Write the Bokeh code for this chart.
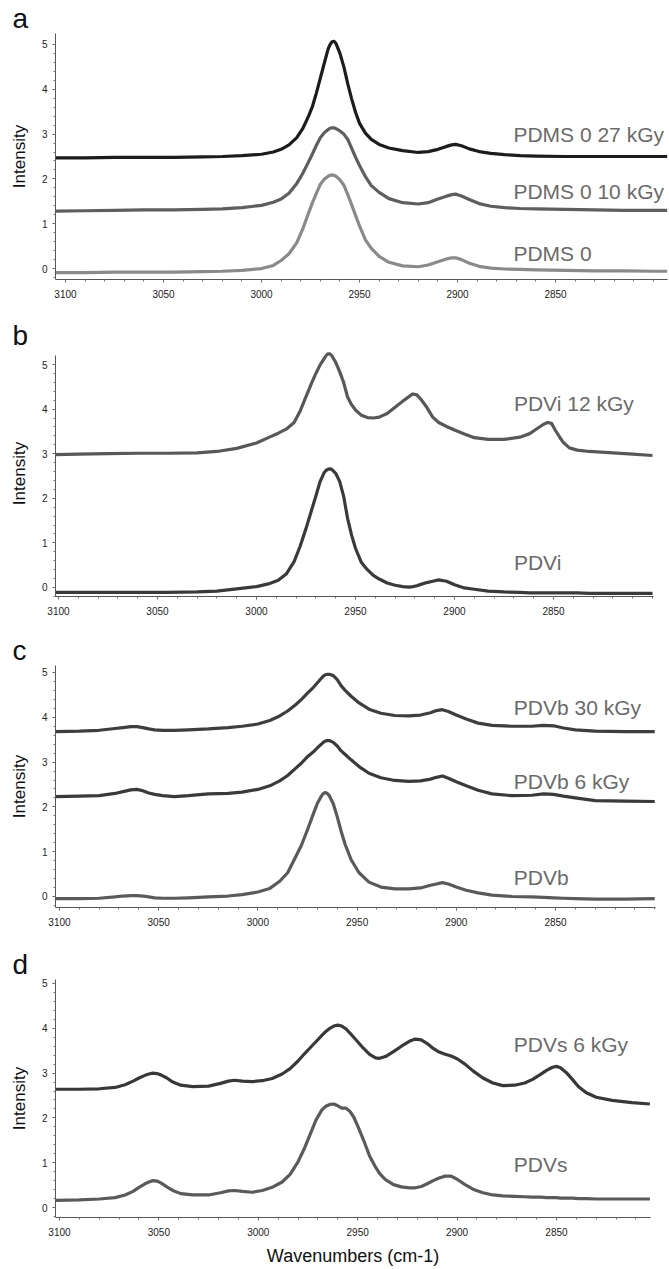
from bokeh.plotting import figure
from bokeh.layouts import column
from bokeh.models import FixedTicker, Label, Range1d
from bokeh.embed import file_html
from bokeh.resources import INLINE

FONT = "Liberation Sans"

# ---------------- data (wavenumber, intensity) ----------------
# panel a
wn_a = [3105, 3090, 3075, 3060, 3045, 3030, 3020, 3010, 3000, 2994,
        2990, 2986, 2982, 2979, 2976, 2974, 2972, 2970, 2968, 2966,
        2965, 2964, 2963, 2962, 2960, 2958, 2956, 2954, 2952, 2950,
        2947, 2944, 2940, 2935, 2928, 2920, 2915, 2910, 2906, 2903,
        2901, 2898, 2894, 2889, 2883, 2876, 2868, 2860, 2845, 2830,
        2815, 2800, 2793]
pdms0_27 = [2.47, 2.47, 2.48, 2.48, 2.48, 2.49, 2.50, 2.52, 2.55, 2.60,
            2.66, 2.76, 2.92, 3.12, 3.40, 3.62, 3.92, 4.25, 4.58, 4.90,
            5.00, 5.06, 5.07, 5.02, 4.80, 4.50, 4.12, 3.78, 3.48, 3.24,
            3.02, 2.88, 2.77, 2.69, 2.63, 2.59, 2.61, 2.66, 2.72, 2.76,
            2.77, 2.74, 2.67, 2.61, 2.57, 2.54, 2.52, 2.51, 2.50, 2.50,
            2.50, 2.50, 2.50]
pdms0_10 = [1.28, 1.29, 1.30, 1.31, 1.31, 1.32, 1.33, 1.36, 1.41, 1.48,
            1.55, 1.68, 1.90, 2.12, 2.38, 2.56, 2.75, 2.92, 3.03, 3.10,
            3.13, 3.14, 3.14, 3.12, 3.07, 3.00, 2.88, 2.68, 2.48, 2.30,
            2.05, 1.85, 1.70, 1.56, 1.47, 1.44, 1.47, 1.55, 1.61, 1.65,
            1.66, 1.62, 1.54, 1.45, 1.39, 1.36, 1.34, 1.33, 1.32, 1.31,
            1.30, 1.30, 1.30]
pdms0 = [-0.09, -0.09, -0.08, -0.08, -0.08, -0.07, -0.06, -0.04, 0.00, 0.07,
         0.18, 0.33, 0.58, 0.88, 1.24, 1.47, 1.68, 1.88, 1.99, 2.06,
         2.08, 2.09, 2.08, 2.06, 1.98, 1.86, 1.65, 1.42, 1.18, 0.95,
         0.64, 0.45, 0.27, 0.14, 0.06, 0.04, 0.08, 0.15, 0.21, 0.24,
         0.24, 0.20, 0.12, 0.05, 0.01, -0.01, -0.02, -0.03, -0.04, -0.05,
         -0.05, -0.06, -0.06]

# panel b
wn_b = [3102, 3090, 3075, 3060, 3045, 3030, 3020, 3010, 3000, 2994,
        2989, 2985, 2981, 2978, 2975, 2972, 2970, 2968, 2966, 2965,
        2964, 2963, 2962, 2960, 2958, 2956, 2954, 2952, 2950, 2947,
        2944, 2941, 2938, 2934, 2930, 2926, 2923, 2921, 2919, 2917,
        2914, 2911, 2908, 2904, 2900, 2895, 2890, 2883, 2875, 2867,
        2862, 2858, 2855, 2853, 2851, 2849, 2847, 2845, 2842, 2838,
        2832, 2820, 2810, 2800]
pdvi_12 = [2.98, 2.99, 3.00, 3.01, 3.01, 3.02, 3.05, 3.12, 3.24, 3.36,
           3.46, 3.55, 3.70, 3.95, 4.28, 4.60, 4.80, 4.98, 5.12, 5.19,
           5.24, 5.24, 5.20, 5.05, 4.84, 4.60, 4.27, 4.10, 3.98, 3.86,
           3.81, 3.80, 3.82, 3.90, 4.04, 4.18, 4.28, 4.34, 4.32, 4.22,
           4.04, 3.82, 3.70, 3.61, 3.53, 3.44, 3.36, 3.32, 3.32, 3.37,
           3.45, 3.57, 3.66, 3.70, 3.68, 3.52, 3.38, 3.25, 3.13, 3.08,
           3.05, 3.02, 2.99, 2.96]
pdvi = [-0.11, -0.11, -0.11, -0.11, -0.11, -0.10, -0.08, -0.03, 0.02, 0.08,
        0.16, 0.30, 0.58, 0.92, 1.32, 1.76, 2.05, 2.36, 2.56, 2.62,
        2.65, 2.66, 2.65, 2.56, 2.38, 2.05, 1.55, 1.18, 0.88, 0.56,
        0.40, 0.27, 0.19, 0.10, 0.05, 0.02, 0.01, 0.02, 0.04, 0.07,
        0.11, 0.14, 0.17, 0.14, 0.06, -0.01, -0.04, -0.08, -0.10, -0.11,
        -0.12, -0.12, -0.12, -0.12, -0.12, -0.12, -0.12, -0.12, -0.12, -0.12,
        -0.13, -0.13, -0.13, -0.13]

# panel c
wn_c = [3102, 3090, 3080, 3072, 3068, 3064, 3061, 3058, 3055, 3052,
        3048, 3042, 3035, 3025, 3015, 3008, 3000, 2994, 2989, 2985,
        2981, 2978, 2975, 2972, 2970, 2968, 2967, 2966, 2965, 2964,
        2962, 2960, 2958, 2956, 2953, 2949, 2944, 2938, 2931, 2924,
        2918, 2913, 2910, 2907, 2904, 2900, 2895, 2889, 2882, 2872,
        2862, 2856, 2851, 2846, 2840, 2830, 2815, 2800]
pdvb_30 = [3.68, 3.69, 3.71, 3.75, 3.77, 3.79, 3.79, 3.77, 3.74, 3.72,
           3.71, 3.71, 3.72, 3.74, 3.77, 3.80, 3.85, 3.93, 4.03, 4.14,
           4.28, 4.40, 4.54, 4.67, 4.77, 4.87, 4.92, 4.95, 4.96, 4.96,
           4.93, 4.84, 4.70, 4.60, 4.47, 4.32, 4.18, 4.09, 4.04, 4.03,
           4.05, 4.10, 4.15, 4.17, 4.13, 4.05, 3.96, 3.87, 3.82, 3.80,
           3.80, 3.82, 3.81, 3.76, 3.72, 3.69, 3.68, 3.68]
pdvb_6 = [2.23, 2.24, 2.25, 2.30, 2.34, 2.38, 2.39, 2.36, 2.31, 2.28,
          2.25, 2.23, 2.25, 2.29, 2.30, 2.33, 2.39, 2.47, 2.58, 2.70,
          2.86, 2.98, 3.12, 3.23, 3.32, 3.40, 3.44, 3.47, 3.48, 3.48,
          3.44, 3.36, 3.25, 3.17, 3.05, 2.90, 2.75, 2.65, 2.59, 2.57,
          2.58, 2.62, 2.66, 2.69, 2.64, 2.56, 2.47, 2.37, 2.29, 2.25,
          2.26, 2.29, 2.28, 2.24, 2.20, 2.14, 2.13, 2.12]
pdvb = [-0.05, -0.05, -0.04, -0.01, 0.01, 0.02, 0.02, 0.01, -0.01, -0.03,
        -0.04, -0.04, -0.03, -0.01, 0.01, 0.04, 0.10, 0.18, 0.34, 0.53,
        0.88, 1.15, 1.49, 1.85, 2.08, 2.24, 2.30, 2.32, 2.30, 2.25,
        2.07, 1.78, 1.45, 1.16, 0.82, 0.53, 0.32, 0.21, 0.17, 0.17,
        0.19, 0.25, 0.28, 0.31, 0.28, 0.21, 0.14, 0.08, 0.03, 0.00,
        -0.01, -0.02, -0.03, -0.04, -0.05, -0.06, -0.06, -0.05]

# panel d
wn_d = [3102, 3090, 3080, 3072, 3067, 3063, 3060, 3057, 3055, 3053,
        3051, 3049, 3046, 3043, 3039, 3033, 3025, 3019, 3015, 3012,
        3008, 3003, 2998, 2993, 2988, 2984, 2980, 2977, 2974, 2971,
        2968, 2966, 2964, 2962, 2960, 2958, 2956, 2954, 2952, 2950,
        2947, 2944, 2941, 2939, 2936, 2932, 2928, 2924, 2921, 2918,
        2915, 2912, 2909, 2906, 2903, 2900, 2896, 2892, 2887, 2882,
        2877, 2871, 2866, 2862, 2858, 2855, 2852, 2850, 2848, 2845,
        2842, 2839, 2835, 2830, 2822, 2812, 2803]
pdvs_6 = [2.64, 2.64, 2.65, 2.68, 2.74, 2.82, 2.89, 2.95, 2.98, 3.00,
          2.99, 2.96, 2.89, 2.80, 2.73, 2.70, 2.71, 2.77, 2.82, 2.84,
          2.82, 2.81, 2.83, 2.88, 2.98, 3.10, 3.27, 3.42, 3.56, 3.70,
          3.84, 3.93, 4.00, 4.05, 4.07, 4.05, 3.99, 3.90, 3.80, 3.70,
          3.55, 3.42, 3.34, 3.33, 3.37, 3.48, 3.60, 3.71, 3.76, 3.74,
          3.66, 3.55, 3.47, 3.42, 3.38, 3.32, 3.20, 3.05, 2.89, 2.78,
          2.72, 2.73, 2.78, 2.86, 2.97, 3.06, 3.13, 3.15, 3.12, 3.01,
          2.86, 2.70, 2.56, 2.46, 2.39, 2.34, 2.31]
pdvs = [0.16, 0.17, 0.19, 0.22, 0.28, 0.36, 0.45, 0.53, 0.57, 0.60,
        0.59, 0.55, 0.46, 0.38, 0.31, 0.28, 0.28, 0.33, 0.37, 0.38,
        0.36, 0.34, 0.38, 0.45, 0.57, 0.74, 1.02, 1.30, 1.62, 1.95,
        2.18, 2.26, 2.30, 2.31, 2.27, 2.22, 2.22, 2.15, 2.02, 1.82,
        1.50, 1.15, 0.90, 0.76, 0.62, 0.51, 0.46, 0.44, 0.44, 0.47,
        0.53, 0.60, 0.66, 0.70, 0.70, 0.63, 0.51, 0.41, 0.33, 0.28,
        0.26, 0.25, 0.24, 0.23, 0.23, 0.22, 0.22, 0.22, 0.21, 0.21,
        0.21, 0.20, 0.20, 0.19, 0.19, 0.19, 0.19]

x_ticks = [3100, 3050, 3000, 2950, 2900, 2850]
y_ticks = [0, 1, 2, 3, 4, 5]

panels = [
    dict(letter="a", wn=wn_a,
         series=[(pdms0_27, "#1c1c1c", "PDMS 0 27 kGy", 3.00),
                 (pdms0_10, "#5e5e5e", "PDMS 0 10 kGy", 1.73),
                 (pdms0, "#8a8a8a", "PDMS 0", 0.33)],
         lab_x=2871.5, xr=(3105.1, 2792.9), yr=(-0.244, 5.244), ybounds=(-0.244, 5.244),
         width=668, height=316, bt=32, bb=37),
    dict(letter="b", wn=wn_b,
         series=[(pdvi_12, "#585858", "PDVi 12 kGy", 4.13),
                 (pdvi, "#3a3a3a", "PDVi", 0.57)],
         lab_x=2870, xr=(3101.5, 2799.5), yr=(-0.202, 5.314), ybounds=(-0.202, 5.202),
         width=654, height=314, bt=34, bb=34),
    dict(letter="c", wn=wn_c,
         series=[(pdvb_30, "#3e3e3e", "PDVb 30 kGy", 4.21),
                 (pdvb_6, "#3a3a3a", "PDVb 6 kGy", 2.57),
                 (pdvb, "#5a5a5a", "PDVb", 0.43)],
         lab_x=2871, xr=(3102.0, 2799.6), yr=(-0.246, 5.156), ybounds=(-0.246, 5.156),
         width=656, height=316, bt=35, bb=39),
    dict(letter="d", wn=wn_d,
         series=[(pdvs_6, "#383838", "PDVs 6 kGy", 3.64),
                 (pdvs, "#5a5a5a", "PDVs", 0.96)],
         lab_x=2871.5, xr=(3102.0, 2802.7), yr=(-0.223, 5.089), ybounds=(-0.223, 5.089),
         width=651, height=322, bt=33, bb=51),
]

figs = []
for i, pd_ in enumerate(panels):
    last = i == len(panels) - 1
    p = figure(width=pd_["width"], height=pd_["height"], output_backend="svg",
               toolbar_location=None, title=pd_["letter"],
               x_range=Range1d(*pd_["xr"]), y_range=Range1d(*pd_["yr"]),
               min_border_left=55, min_border_right=1,
               min_border_top=pd_["bt"], min_border_bottom=pd_["bb"])
    p.grid.visible = False
    p.outline_line_color = None
    p.background_fill_color = "white"

    p.title.text_font = FONT
    p.title.text_font_size = "28px"
    p.title.text_font_style = "normal"
    p.title.text_color = "#111111"
    p.title.align = "left"
    p.title.offset = -43
    p.title.standoff = 0

    for ys, col, name, ly in pd_["series"]:
        p.line(pd_["wn"], ys, line_color=col, line_width=3.2, line_join="round")
        p.add_layout(Label(x=pd_["lab_x"], y=ly, text=name, text_font=FONT,
                           text_font_size="21px", text_color="#6a6a6a",
                           text_align="left", text_baseline="middle"))

    xa = p.xaxis[0]
    xa.ticker = FixedTicker(ticks=x_ticks, minor_ticks=list(range(3100, 2790, -10)))
    ya = p.yaxis[0]
    ya.ticker = FixedTicker(ticks=y_ticks, minor_ticks=[round(-0.2 + 0.2 * k, 1) for k in range(27)])
    ya.bounds = pd_["ybounds"]
    for ax in (xa, ya):
        ax.axis_line_color = "#555555"
        ax.axis_line_width = 1
        ax.major_tick_line_color = "#555555"
        ax.minor_tick_line_color = "#777777"
        ax.major_tick_in = 0
        ax.major_tick_out = 3
        ax.minor_tick_in = 0
        ax.minor_tick_out = 2
        ax.major_label_text_font = FONT
        ax.major_label_text_font_size = "10px"
        ax.major_label_text_color = "#222222"
        ax.major_label_standoff = 5
    xa.major_label_standoff = 7
    ya.axis_label = "Intensity"
    ya.axis_label_text_font = FONT
    ya.axis_label_text_font_size = "17px"
    ya.axis_label_text_font_style = "normal"
    ya.axis_label_text_color = "#111111"
    ya.axis_label_standoff = 10
    if last:
        xa.axis_label = "Wavenumbers (cm-1)"
        xa.axis_label_text_font = FONT
        xa.axis_label_text_font_size = "18px"
        xa.axis_label_text_font_style = "normal"
        xa.axis_label_text_color = "#111111"
        xa.axis_label_standoff = 7
    figs.append(p)

layout = column(*figs, spacing=0)
open("out.html", "w").write(file_html(layout, INLINE))
